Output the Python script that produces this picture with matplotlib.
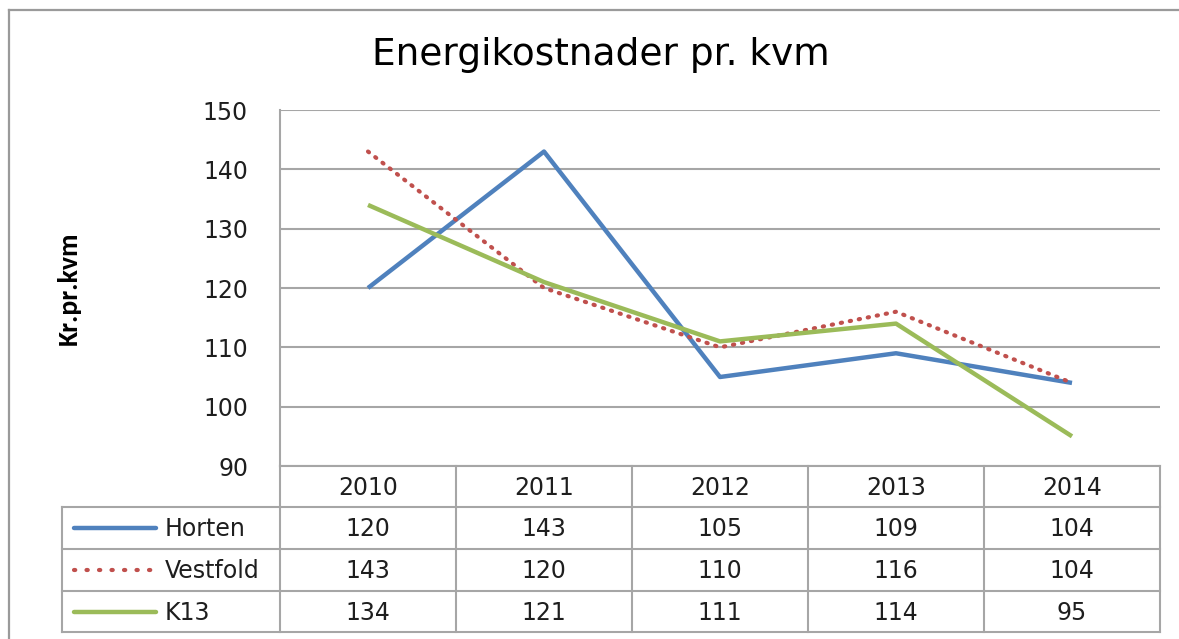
import matplotlib
matplotlib.use("Agg")
import matplotlib.pyplot as plt
from matplotlib.lines import Line2D

plt.rcParams["font.family"] = ["DejaVu Sans"]

years = ["2010", "2011", "2012", "2013", "2014"]
series_names = ["Horten", "Vestfold", "K13"]
horten = [120, 143, 105, 109, 104]
vestfold = [143, 120, 110, 116, 104]
k13 = [134, 121, 111, 114, 95]
yticks = [90, 100, 110, 120, 130, 140, 150]

colors = ["#4F81BD", "#C0504D", "#9BBB59"]
styles = ["-", ":", "-"]
grid_c = "#A6A6A6"
txt_c = "#1E1E1E"
W, H = 1179, 639

fig = plt.figure(figsize=(W / 100, H / 100), dpi=100)

# pixel layout helpers
def frac(x0, y0, x1, y1):
    return [x0 / W, 1 - y1 / H, (x1 - x0) / W, (y1 - y0) / H]

# outer chart frame
fig.add_artist(Line2D([9 / W, 9 / W], [0, 1 - 10 / H], color="#9A9A9A", lw=1.6))
fig.add_artist(Line2D([9 / W, 1], [1 - 10 / H, 1 - 10 / H], color="#9A9A9A", lw=1.6))

fig.text(601 / W, 1 - 55 / H, "Energikostnader pr. kvm", ha="center", va="center",
         fontsize=27, color="black")

px0, px1, py0, py1 = 280, 1160, 110, 466
ax = fig.add_axes(frac(px0, py0, px1, py1))
data = [horten, vestfold, k13]
x = range(len(years))
for vals, c, ls in zip(data, colors, styles):
    if ls == ":":
        ax.plot(x, vals, color=c, lw=3, ls=(0, (0.3, 1.9)), dash_capstyle="round", zorder=3)
    else:
        ax.plot(x, vals, color=c, lw=3.2, ls=ls, solid_capstyle="butt", zorder=3)
ax.set_xlim(-0.5, len(years) - 0.5)
ax.set_ylim(90, 150)
ax.set_yticks(yticks)
ax.set_yticklabels([str(t) for t in yticks], fontsize=17, color=txt_c)
ax.tick_params(axis="y", length=0, pad=23)
ax.set_xticks([])
for t in yticks:
    ax.axhline(t, color=grid_c, lw=1.5, zorder=1)
for s in ["top", "right", "bottom"]:
    ax.spines[s].set_visible(False)
ax.spines["left"].set_color(grid_c)
ax.spines["left"].set_linewidth(1.5)
ax.set_ylabel("Kr.pr.kvm", fontsize=20, fontweight="bold",
              family=["Carlito", "Roboto Condensed", "DejaVu Sans"])
ax.yaxis.set_label_coords((81 - px0) / (px1 - px0), 0.5)

# data table below the plot
tx0, ty0, ty1 = 62, 466, 632
tb = fig.add_axes(frac(tx0, ty0, px1, ty1))
tb.set_xlim(tx0, px1)
tb.set_ylim(ty1, ty0)
tb.axis("off")
colw = (px1 - px0) / len(years)
row_edges = [466, 507, 549, 591, 632]
lk = dict(color=grid_c, lw=1.5, clip_on=False)
# horizontal lines
tb.plot([px0, px1], [row_edges[0]] * 2, **lk)
for yy in row_edges[1:]:
    tb.plot([tx0, px1], [yy] * 2, **lk)
# vertical lines
tb.plot([tx0, tx0], [row_edges[1], row_edges[-1]], **lk)
for i in range(len(years) + 1):
    xx = px0 + i * colw
    tb.plot([xx, xx], [row_edges[0], row_edges[-1]], **lk)

fs = 17
for i, yr in enumerate(years):
    tb.text(px0 + (i + 0.5) * colw, (row_edges[0] + row_edges[1]) / 2 + 1, yr,
            ha="center", va="center", fontsize=fs, color=txt_c)
for r, (name, vals, c, ls) in enumerate(zip(series_names, data, colors, styles)):
    yc = (row_edges[r + 1] + row_edges[r + 2]) / 2
    if ls == ":":
        tb.plot([74, 151], [yc, yc], color=c, lw=3, ls=(0, (0.3, 2.7)),
                dash_capstyle="round", clip_on=False)
    else:
        tb.plot([74, 156], [yc, yc], color=c, lw=3.2, solid_capstyle="round", clip_on=False)
    tb.text(165, yc + 1, name, ha="left", va="center", fontsize=fs, color=txt_c)
    for i, v in enumerate(vals):
        tb.text(px0 + (i + 0.5) * colw, yc + 1, str(v), ha="center", va="center",
                fontsize=fs, color=txt_c)

fig.savefig("out.png", dpi=100)
